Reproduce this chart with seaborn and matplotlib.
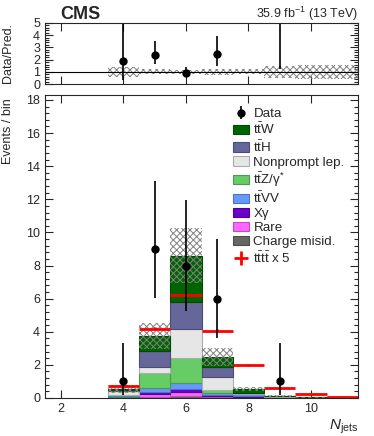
import numpy as np
import pandas as pd
import matplotlib
matplotlib.use("Agg")
import matplotlib.pyplot as plt
import matplotlib.colors as mcolors
from matplotlib.patches import Patch
from matplotlib.ticker import MultipleLocator
import seaborn as sns

# jet multiplicity bins (centres), edges 3.5 ... 11.5
njets = [4, 5, 6, 7, 8, 9, 10, 11]
edges = [3.5, 4.5, 5.5, 6.5, 7.5, 8.5, 9.5, 10.5, 11.5]

# stacked backgrounds (events / bin)
ttw = [0.06, 0.91, 2.82, 0.61, 0.20, 0.03, 0.005, 0.005]
tth = [0.08, 0.99, 1.63, 0.56, 0.03, 0.02, 0.005, 0.005]
nonprompt = [0.22, 0.32, 1.71, 0.80, 0.03, 0.02, 0.005, 0.005]
ttz = [0.08, 0.91, 1.51, 0.20, 0.03, 0.01, 0.005, 0.005]
ttvv = [0.03, 0.28, 0.39, 0.10, 0.15, 0.02, 0.005, 0.005]
xgamma = [0.02, 0.12, 0.20, 0.05, 0.02, 0.01, 0.005, 0.0]
rare = [0.02, 0.14, 0.20, 0.06, 0.02, 0.01, 0.005, 0.005]
charge_misid = [0.03, 0.08, 0.14, 0.08, 0.05, 0.02, 0.01, 0.005]

# total prediction uncertainty (absolute)
pred_unc = [0.22, 0.77, 1.66, 0.54, 0.11, 0.07, 0.025, 0.02]

# signal tttt x 5
tttt_x5 = [0.70, 4.19, 6.22, 4.07, 2.00, 0.58, 0.24, 0.08]
tttt_err = [0.04, 0.10, 0.12, 0.10, 0.07, 0.04, 0.02, 0.01]

# observed data with asymmetric (Poisson) errors
data = [1, 9, 8, 6, 0, 1, 0, 0]
data_err_lo = [0.83, 2.94, 2.77, 2.38, 0.0, 0.83, 0.0, 0.0]
data_err_hi = [2.30, 4.11, 3.94, 3.58, 1.84, 2.30, 1.84, 1.84]

tb = r"$\bar{\mathrm{t}}$"
processes = ["t" + tb + "W", "t" + tb + "H", "Nonprompt lep.",
             "t" + tb + r"Z/$\mathrm{γ}^{*}$", "t" + tb + "VV", "Xγ", "Rare",
             "Charge misid."]
yields = [ttw, tth, nonprompt, ttz, ttvv, xgamma, rare, charge_misid]
colors = ["#006400", "#66669a", "#e6e6e6", "#66cc66", "#6699ff",
          "#6a00cc", "#ff66ff", "#666666"]

sns.set_style("ticks")
plt.rcParams["font.family"] = ["Liberation Sans", "DejaVu Sans"]
plt.rcParams["mathtext.fontset"] = "custom"
plt.rcParams["mathtext.rm"] = "Liberation Sans"
plt.rcParams["mathtext.it"] = "Liberation Sans:italic"
plt.rcParams["hatch.linewidth"] = 0.7

rows = []
for proc, vals in zip(processes, yields):
    for n, w in zip(njets, vals):
        rows.append({"njets": n, "process": proc, "weight": w})
df = pd.DataFrame(rows)

fig = plt.figure(figsize=(3.74, 4.36), dpi=100)
ax_r = fig.add_axes([0.1203, 0.807, 0.837, 0.1406])
ax = fig.add_axes([0.1203, 0.0872, 0.837, 0.695])

sns.histplot(data=df, x="njets", weights="weight", hue="process",
             hue_order=processes, palette=dict(zip(processes, colors)),
             multiple="stack", bins=edges, element="bars", alpha=1,
             linewidth=0.8, legend=False, ax=ax)
for cont in ax.containers:
    for p in cont:
        fc = np.array(mcolors.to_rgb(p.get_facecolor()))
        p.set_edgecolor(fc * 0.75)

total = np.sum(np.array(yields), axis=0)
unc = np.array(pred_unc)
centers = np.array(njets, dtype=float)

# uncertainty band
ax.bar(centers, 2 * unc, bottom=total - unc, width=1.0, fill=False,
       hatch="xxxxx", edgecolor="#808080", linewidth=0)

# signal
sig = ax.errorbar(centers, tttt_x5, xerr=0.5, yerr=tttt_err, fmt="none",
                  ecolor="red", elinewidth=2, capsize=0)

# data
d = np.array(data, dtype=float)
mask = d > 0
dat = ax.errorbar(centers[mask], d[mask],
                  yerr=[np.array(data_err_lo)[mask], np.array(data_err_hi)[mask]],
                  fmt="o", color="black", markersize=5, elinewidth=1.2, capsize=0)

ax.set_xlim(1.5, 11.5)
ax.set_ylim(0, 18.3)
ax.xaxis.set_major_locator(MultipleLocator(2))
ax.yaxis.set_major_locator(MultipleLocator(2))
ax.yaxis.set_minor_locator(MultipleLocator(0.4))
ax.set_xlabel(r"$N_{\mathrm{jets}}$", loc="right", fontsize=11, labelpad=2)
ax.set_ylabel("Events / bin", loc="top", fontsize=9)
ax.yaxis.set_label_coords(-0.1, 0.99)

handles = [dat] + [Patch(facecolor=c, edgecolor=np.array(mcolors.to_rgb(c)) * 0.75,
                         linewidth=0.8) for c in colors] + [sig]
labels = ["Data"] + processes + ["t" + tb + "t" + tb + " x 5"]
ax.legend(handles, labels, loc="upper left", bbox_to_anchor=(0.585, 0.975),
          frameon=False, fontsize=9.6, handlelength=1.15, handleheight=0.7,
          handletextpad=0.35, labelspacing=0.13, borderaxespad=0)

# ratio panel
ratio = d / total
r_lo = np.array(data_err_lo) / total
r_hi = np.array(data_err_hi) / total
ax_r.axhline(1.0, color="black", linewidth=0.8)
ax_r.bar(centers, 2 * unc / total, bottom=1 - unc / total, width=1.0, fill=False,
         hatch="xxxxx", edgecolor="#808080", linewidth=0)
ax_r.errorbar(centers[mask], ratio[mask], yerr=[r_lo[mask], r_hi[mask]],
              fmt="o", color="black", markersize=5, elinewidth=1.2, capsize=0)
ax_r.set_xlim(1.5, 11.5)
ax_r.set_ylim(0, 5)
ax_r.xaxis.set_major_locator(MultipleLocator(2))
ax_r.yaxis.set_major_locator(MultipleLocator(1))
ax_r.yaxis.set_minor_locator(MultipleLocator(0.2))
ax_r.set_xticklabels([])
ax_r.set_ylabel("Data/Pred.", fontsize=9)
ax_r.yaxis.set_label_coords(-0.1, 0.5)

for a in (ax, ax_r):
    a.tick_params(direction="in", which="both", top=True, right=True,
                  labelsize=9, width=0.8)
    a.tick_params(which="major", length=6)
    a.tick_params(which="minor", length=3)
    for s in a.spines.values():
        s.set_linewidth(0.8)

fig.text(0.16, 0.956, "CMS", fontsize=13, fontweight="bold", ha="left", va="baseline")
fig.text(0.957, 0.958, r"35.9 fb$^{-1}$ (13 TeV)", fontsize=9, ha="right", va="baseline")

fig.savefig("out.png", dpi=100)
